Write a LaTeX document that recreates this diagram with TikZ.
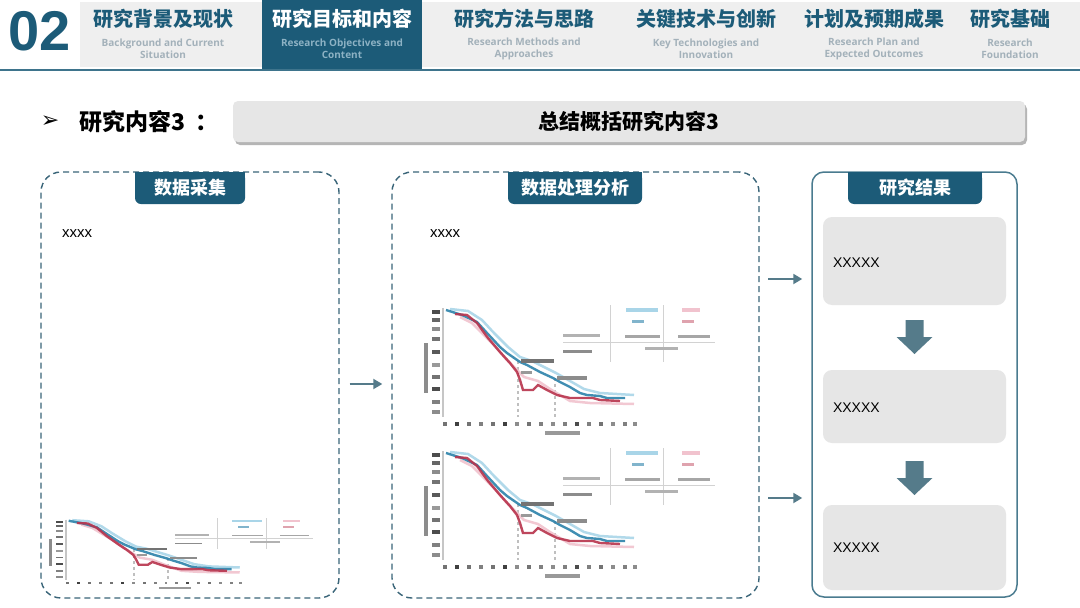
\documentclass[tikz,border=0pt]{standalone}
\usepackage{fontspec}
\setmainfont{Liberation Sans}
\newfontfamily\cjk{Noto Sans CJK SC}
\newfontfamily\osans{Open Sans}
\newfontfamily\djv{DejaVu Sans}
\usetikzlibrary{arrows.meta,calc}
\definecolor{teal}{HTML}{1C5B78}
\definecolor{hdrgray}{HTML}{EFEFEF}
\definecolor{subgray}{HTML}{A3B1BA}
\definecolor{subact}{HTML}{8DB2C4}
\definecolor{dashc}{HTML}{3A6579}
\definecolor{boxc}{HTML}{4A7B8F}
\definecolor{arrowc}{HTML}{557B8A}
\definecolor{innergray}{HTML}{E6E6E6}
\definecolor{barshadow}{HTML}{B5B5B5}
\definecolor{cblue}{HTML}{2C82AA}
\definecolor{cred}{HTML}{B8334C}
\definecolor{lblue}{HTML}{A9D5E8}
\definecolor{lpink}{HTML}{F1C3CE}
\tikzset{
  tabtitle/.style={font=\cjk\bfseries\fontsize{20}{22}\selectfont, text=teal, inner sep=0pt},
  tabsub/.style={font=\osans\bfseries\fontsize{10}{12}\selectfont, text=subgray, align=center, inner sep=0pt},
  dashbox/.style={draw=dashc, line width=1.4pt, dash pattern=on 6pt off 4pt, rounded corners=20pt, inner sep=0pt},
  solidbox/.style={draw=boxc, line width=1.5pt, rounded corners=12pt, inner sep=0pt},
  labeltab/.style={fill=teal, rounded corners=6pt, minimum height=32pt, inner sep=0pt, text=white, font=\cjk\bfseries\fontsize{18}{20}\selectfont},
  innerbox/.style={fill=innergray, rounded corners=9pt, minimum width=183pt, inner sep=0pt},
  xtext/.style={font=\fontsize{14}{16}\selectfont, anchor=west, inner sep=0pt},
  smalltext/.style={font=\fontsize{15}{17}\selectfont, anchor=west, inner sep=0pt},
  conn/.style={draw=arrowc, line width=2pt, -{Triangle[length=9pt,width=10pt]}},
  blockdown/.pic={\fill[arrowc] (-9,-17) -- (9,-17) -- (9,0) -- (18,0) -- (0,17) -- (-18,0) -- (-9,0) -- cycle;},
  chart/.pic={
    % y axis
    \draw[gray!45, line width=2pt] (23,3) -- (23,112);
    \foreach \yy/\g in {5/70,13/60,22/45,32/55,45/65,58/40,70/55,82/70,95/50,105/45}
      \fill[black!\g] (12,\yy) rectangle (20,\yy+3.5);
    \fill[black!45] (4,38) rectangle (7.5,88);
    % x ticks
    \foreach \xx/\g in {25/55,37/75,49/55,61/50,73/55,85/75,97/45,109/55,121/50,133/45,145/50,157/70,169/50,181/55,193/45,205/50,215/45}
      \fill[black!\g] (\xx-1.6,117) rectangle (\xx+1.6,120.5);
    \fill[black!40] (125,126) rectangle (160,129.5);
    % dashed guides
    \draw[gray!50, line width=1.5pt, dash pattern=on 3pt off 3pt] (98,56) -- (98,112);
    \draw[gray!50, line width=1.5pt, dash pattern=on 3pt off 3pt] (135,73) -- (135,112);
    % light curves
    \draw[lblue, line width=2.5pt, opacity=0.9] (30,4) -- (48,6) -- (62,15) -- (74,28) -- (88,42) -- (100,52) -- (112,56) -- (124,62) -- (136,68) -- (150,76) -- (164,84) -- (180,88) -- (214,90);
    \draw[lpink, line width=2.5pt, opacity=0.9] (40,12) -- (52,18) -- (62,28) -- (74,40) -- (86,54) -- (96,64) -- (104,72) -- (118,76) -- (130,84) -- (150,96) -- (170,98) -- (214,99);
    % main curves
    \draw[cblue, line width=2.4pt, opacity=0.9] (26,5) -- (42,10) -- (57,17) -- (67,28) -- (80,42) -- (87,48) -- (100,57) -- (107,60) -- (120,67) -- (133,73) -- (140,77) -- (150,82) -- (160,88) -- (167,90) -- (180,91) -- (187,93) -- (205,93);
    \draw[cred, line width=2.4pt, opacity=0.9] (35,9) -- (47,10) -- (57,18) -- (68,33) -- (80,47) -- (90,58) -- (97,67) -- (100,75) -- (103,85) -- (113,85) -- (118,80) -- (127,85) -- (137,90) -- (150,93) -- (173,93) -- (180,95) -- (200,96);
    % labels on plot
    \fill[black!55] (101,54) rectangle (134,58);
    \fill[black!45] (137,71) rectangle (167,75);
    \fill[black!40] (101,66) rectangle (112,69);
    % table
    \draw[gray!35, line width=1pt] (190,0) -- (190,57);
    \draw[gray!35, line width=1pt] (243,0) -- (243,57);
    \draw[gray!35, line width=1pt] (143,37) -- (295,37);
    \fill[black!30] (143,29) rectangle (180,32);
    \fill[black!45] (143,45) rectangle (172,48);
    \fill[lblue] (206,3) rectangle (238,7);
    \fill[cblue!60] (212,15) rectangle (224,18);
    \fill[lpink] (262,3) rectangle (280,7);
    \fill[cred!45] (262,15) rectangle (274,18);
    \fill[black!35] (205,30) rectangle (240,33);
    \fill[black!35] (258,30) rectangle (290,33);
    \fill[black!30] (225,42) rectangle (258,45);
  }
}
\begin{document}
\begin{tikzpicture}[x=1pt,y=-1pt]
\useasboundingbox (0,0) rectangle (1080,608);
\fill[white] (0,0) rectangle (1080,608);

% ---------- header ----------
\node[font=\bfseries\fontsize{56}{60}\selectfont, text=teal, inner sep=0pt] (num) at (40,31) {02};
\fill[hdrgray] (80,2) rectangle (1080,67);
\fill[teal] (262,0) rectangle (422,69);
\draw[teal!85, line width=2pt] (0,69.5) -- (1080,69.5);

\node[tabtitle] (t1) at (163,19) {研究背景及现状};
\node[tabsub] (s1) at (163,49) {Background and Current\\Situation};
\node[tabtitle, text=white] (t2) at (342,19) {研究目标和内容};
\node[tabsub, text=subact] (s2) at (342,49) {Research Objectives and\\Content};
\node[tabtitle] (t3) at (524,19) {研究方法与思路};
\node[tabsub] (s3) at (524,49) {Research Methods and\\Approaches};
\node[tabtitle] (t4) at (706,19) {关键技术与创新};
\node[tabsub] (s4) at (706,49) {Key Technologies and\\Innovation};
\node[tabtitle] (t5) at (874,19) {计划及预期成果};
\node[tabsub] (s5) at (874,49) {Research Plan and\\Expected Outcomes};
\node[tabtitle] (t6) at (1010,19) {研究基础};
\node[tabsub] (s6) at (1010,49) {Research\\Foundation};

% ---------- heading ----------
\node[font=\djv\fontsize{22}{24}\selectfont, inner sep=0pt] (bullet) at (50,122) {➢};
\node[font=\cjk\bfseries\fontsize{23}{25}\selectfont, anchor=west, inner sep=0pt] (head) at (79,122) {研究内容3\kern10pt：};
\fill[barshadow, rounded corners=5pt] (235,104) rectangle (1027,145);
\node[fill=innergray, rounded corners=5pt, minimum width=792pt, minimum height=41pt, inner sep=0pt,
      font=\cjk\bfseries\fontsize{21}{23}\selectfont] (bar) at (629,121.5) {总结概括研究内容3};

% ---------- boxes ----------
\node[dashbox, minimum width=298pt, minimum height=426pt] (b1) at (190,385) {};
\node[dashbox, minimum width=367pt, minimum height=426pt] (b2) at (575.5,385) {};
\node[solidbox, minimum width=205pt, minimum height=425pt] (b3) at (914.5,384.5) {};

\fill[teal] (135,172) rectangle (245,188);
\node[labeltab, minimum width=110pt] (l1) at (190,188) {数据采集};
\fill[teal] (508,172) rectangle (642,188);
\node[labeltab, minimum width=134pt] (l2) at (575,188) {数据处理分析};
\fill[teal] (848,172) rectangle (982,188);
\node[labeltab, minimum width=134pt] (l3) at (915,188) {研究结果};

\node[smalltext] (x1) at (62,234) {xxxx};
\node[smalltext] (x2) at (430,234) {xxxx};

% charts
\begin{scope}[shift={(45,518)}, xscale=0.91, yscale=0.55]
  \pic[transform shape] {chart};
\end{scope}
\begin{scope}[shift={(420,305)}]
  \pic {chart};
\end{scope}
\begin{scope}[shift={(420,448)}]
  \pic {chart};
\end{scope}

% result boxes
\node[innerbox, minimum height=88pt] (r1) at (914.5,261) {};
\node[innerbox, minimum height=73pt] (r2) at (914.5,406.5) {};
\node[innerbox, minimum height=85pt] (r3) at (914.5,547.5) {};
\node[xtext] (rt1) at ([xshift=10pt,yshift=-2pt]r1.west) {XXXXX};
\node[xtext] (rt2) at ([xshift=10pt,yshift=-1.5pt]r2.west) {XXXXX};
\node[xtext] (rt3) at ([xshift=10pt,yshift=-0.5pt]r3.west) {XXXXX};

\pic at (914.5,337) {blockdown};
\pic at (914.5,478) {blockdown};

% connectors
\draw[conn] ([xshift=10pt,yshift=1pt]b1.east) -- ([xshift=-9pt,yshift=1pt]b2.west);
\coordinate (a1) at (768,279);
\coordinate (a2) at (768,498);
\draw[conn] (a1) -- ([xshift=-9pt]b3.west |- a1);
\draw[conn] (a2) -- ([xshift=-9pt]b3.west |- a2);
\end{tikzpicture}
\end{document}
